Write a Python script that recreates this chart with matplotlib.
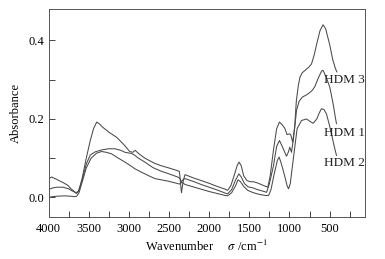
#!/usr/bin/env python3
"""
FTIR-Spektren der drei Proben HDM 1, HDM 2, HDM 3 (Absorbance über Wellenzahl).
"""
import matplotlib
matplotlib.use("Agg")
import matplotlib.pyplot as plt
from matplotlib.ticker import MultipleLocator

# =============================================================================
# Daten
# =============================================================================

wn_hdm3 = [4000, 3960, 3900, 3820, 3760, 3720, 3690, 3650, 3620, 3580, 3530, 3480,
           3440, 3400, 3370, 3320, 3240, 3150, 3050, 2990, 2950, 2920, 2880, 2800,
           2680, 2600, 2500, 2405, 2370, 2345, 2320, 2300, 2200, 2100, 2000, 1900,
           1800, 1770, 1730, 1690, 1650, 1627, 1600, 1570, 1530, 1490, 1450, 1400,
           1330, 1270, 1240, 1200, 1160, 1125, 1090, 1058, 1030, 1000, 985, 960,
           935, 915, 890, 870, 840, 810, 760, 726, 690, 660, 620, 582, 550, 500,
           460, 427, 410]
abs_hdm3 = [0.048, 0.052, 0.046, 0.038, 0.031, 0.022, 0.017, 0.010, 0.018, 0.050,
            0.100, 0.145, 0.175, 0.192, 0.188, 0.178, 0.165, 0.153, 0.132, 0.117,
            0.115, 0.120, 0.112, 0.100, 0.087, 0.081, 0.075, 0.069, 0.066, 0.012,
            0.045, 0.058, 0.050, 0.043, 0.036, 0.028, 0.021, 0.018, 0.030, 0.055,
            0.082, 0.090, 0.080, 0.055, 0.043, 0.040, 0.040, 0.037, 0.031, 0.026,
            0.055, 0.120, 0.175, 0.192, 0.185, 0.176, 0.160, 0.162, 0.160, 0.141,
            0.180, 0.245, 0.285, 0.306, 0.318, 0.323, 0.332, 0.340, 0.365, 0.392,
            0.425, 0.440, 0.430, 0.390, 0.350, 0.328, 0.320]

wn_hdm1 = [4000, 3950, 3900, 3820, 3750, 3700, 3660, 3630, 3580, 3530, 3480, 3420,
           3340, 3250, 3173, 3100, 3048, 2965, 2930, 2880, 2800, 2700, 2600, 2500,
           2405, 2370, 2345, 2320, 2300, 2200, 2100, 2000, 1900, 1800, 1770, 1720,
           1670, 1630, 1600, 1560, 1514, 1450, 1400, 1330, 1285, 1250, 1200, 1160,
           1125, 1090, 1037, 1015, 996, 975, 950, 912, 880, 838, 800, 768, 720,
           685, 640, 600, 582, 540, 498, 457, 430, 415]
abs_hdm1 = [0.020, 0.024, 0.026, 0.026, 0.022, 0.016, 0.012, 0.015, 0.045, 0.085,
            0.108, 0.116, 0.121, 0.124, 0.124, 0.120, 0.115, 0.112, 0.108, 0.100,
            0.090, 0.076, 0.067, 0.060, 0.053, 0.050, 0.040, 0.046, 0.048, 0.041,
            0.033, 0.026, 0.019, 0.011, 0.009, 0.020, 0.045, 0.060, 0.052, 0.035,
            0.027, 0.024, 0.020, 0.016, 0.013, 0.035, 0.080, 0.130, 0.145, 0.130,
            0.105, 0.115, 0.128, 0.115, 0.150, 0.222, 0.245, 0.256, 0.260, 0.264,
            0.272, 0.282, 0.305, 0.322, 0.324, 0.305, 0.281, 0.239, 0.205, 0.188]

wn_hdm2 = [4000, 3950, 3900, 3800, 3720, 3680, 3650, 3620, 3580, 3530, 3470, 3400,
           3340, 3280, 3214, 3130, 3048, 2980, 2924, 2850, 2750, 2675, 2600, 2500,
           2405, 2370, 2345, 2320, 2300, 2200, 2100, 2000, 1900, 1800, 1770, 1720,
           1670, 1640, 1610, 1570, 1520, 1450, 1380, 1300, 1260, 1230, 1190, 1150,
           1129, 1100, 1060, 1030, 1012, 990, 955, 905, 850, 788, 740, 705, 660,
           630, 602, 570, 540, 510, 477, 445, 415]
abs_hdm2 = [0.000, 0.002, 0.003, 0.004, 0.003, 0.002, 0.003, 0.012, 0.040, 0.075,
            0.100, 0.113, 0.117, 0.115, 0.111, 0.100, 0.090, 0.081, 0.073, 0.065,
            0.055, 0.048, 0.045, 0.041, 0.036, 0.034, 0.038, 0.036, 0.033, 0.027,
            0.021, 0.015, 0.010, 0.005, 0.004, 0.012, 0.030, 0.045, 0.040, 0.028,
            0.018, 0.012, 0.008, 0.005, 0.005, 0.020, 0.060, 0.095, 0.103, 0.085,
            0.055, 0.030, 0.022, 0.035, 0.094, 0.175, 0.196, 0.200, 0.193, 0.189,
            0.200, 0.215, 0.226, 0.224, 0.213, 0.190, 0.162, 0.132, 0.107]

labels = ["HDM 3", "HDM 1", "HDM 2"]
label_y = [0.298, 0.163, 0.087]

# =============================================================================
# Plot
# =============================================================================

plt.rcParams["font.family"] = ["Liberation Serif", "DejaVu Serif"]
plt.rcParams["mathtext.fontset"] = "stix"
plt.rcParams["font.size"] = 9

fig = plt.figure(figsize=(3.85, 2.59), dpi=100)
ax = fig.add_axes([0.126, 0.162, 0.822, 0.803])

line_kw = dict(color="#4a4a4a", linewidth=0.75)
ax.plot(wn_hdm3, abs_hdm3, **line_kw)
ax.plot(wn_hdm1, abs_hdm1, **line_kw)
ax.plot(wn_hdm2, abs_hdm2, **line_kw)

for text, yv in zip(labels, label_y):
    ax.text(565, yv, text, ha="left", va="center", fontsize=9.5, color="#222222")

ax.set_xlim(4000, 60)
ax.set_ylim(-0.05, 0.48)
ax.xaxis.set_major_locator(MultipleLocator(500))
ax.xaxis.set_minor_locator(MultipleLocator(250))
ax.yaxis.set_major_locator(MultipleLocator(0.2))
ax.yaxis.set_minor_locator(MultipleLocator(0.1))
ax.yaxis.set_major_formatter(plt.FuncFormatter(lambda v, p: f"{v:.1f}"))

ax.tick_params(which="both", direction="in", length=4, width=0.7,
               color="#444444", top=False, right=False)
ax.tick_params(axis="x", pad=4)
ax.tick_params(axis="y", pad=3)
for sp in ax.spines.values():
    sp.set_color("#555555")
    sp.set_linewidth(0.7)

ax.set_xlabel(r"Wavenumber     $\sigma$ /cm$^{-1}$", labelpad=3)
ax.set_ylabel("Absorbance", labelpad=5)

fig.savefig("out.png", dpi=100)
